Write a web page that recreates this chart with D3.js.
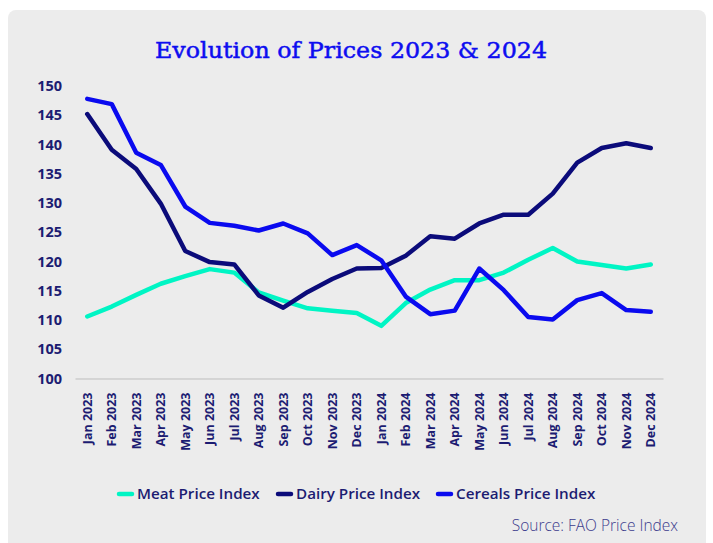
<!DOCTYPE html>
<meta charset="utf-8">
<style>
body { margin: 0; background: #fff; }
text { font-family: "Open Sans", sans-serif; }
.axis path, .axis line { fill: none; }
</style>
<body>
<script src="https://d3js.org/d3.v7.min.js"></script>
<script>

var months = ["Jan 2023", "Feb 2023", "Mar 2023", "Apr 2023", "May 2023", "Jun 2023",
  "Jul 2023", "Aug 2023", "Sep 2023", "Oct 2023", "Nov 2023", "Dec 2023",
  "Jan 2024", "Feb 2024", "Mar 2024", "Apr 2024", "May 2024", "Jun 2024",
  "Jul 2024", "Aug 2024", "Sep 2024", "Oct 2024", "Nov 2024", "Dec 2024"];

var meat = [110.6, 112.3, 114.3, 116.2, 117.5, 118.7, 118.1, 114.7, 113.3, 112.0, 111.6, 111.2,
  109.0, 112.9, 115.2, 116.8, 116.8, 118.1, 120.3, 122.3, 120.0, 119.4, 118.8, 119.5];

var dairy = [145.2, 139.1, 135.8, 129.9, 121.8, 119.9, 119.5, 114.2, 112.1, 114.8, 117.0, 118.8,
  118.9, 121.0, 124.3, 123.9, 126.5, 128.0, 128.0, 131.6, 136.9, 139.4, 140.2, 139.4];

var cereals = [147.8, 146.9, 138.6, 136.5, 129.4, 126.6, 126.1, 125.3, 126.5, 124.8, 121.1, 122.8,
  120.2, 114.0, 111.0, 111.6, 118.8, 115.1, 110.5, 110.1, 113.4, 114.6, 111.7, 111.4];

var yTicks = [100, 105, 110, 115, 120, 125, 130, 135, 140, 145, 150];

var series = [
  { name: "Meat Price Index", values: meat, color: "#00f5c4" },
  { name: "Dairy Price Index", values: dairy, color: "#0b0b7a" },
  { name: "Cereals Price Index", values: cereals, color: "#0a0aef" }
];

var width = 713;
var height = 543;
var navy = "#1c1c72";

var svg = d3.select("body").append("svg")
  .attr("width", width).attr("height", height);

// grey card
svg.append("rect")
  .attr("x", 8).attr("y", 10)
  .attr("width", 698).attr("height", 545)
  .attr("rx", 8)
  .attr("fill", "#ececec");

// title
svg.append("text")
  .attr("x", 351).attr("y", 58)
  .attr("text-anchor", "middle")
  .style("font-family", "'DejaVu Serif', serif")
  .style("font-size", "23px")
  .attr("textLength", 392)
  .attr("lengthAdjust", "spacingAndGlyphs")
  .attr("fill", "#0d0df0")
  .attr("stroke", "#0d0df0")
  .attr("stroke-width", 0.5)
  .text("Evolution of Prices 2023 & 2024");

var x = d3.scaleBand()
  .domain(months)
  .range([75, 663]);

var y = d3.scaleLinear()
  .domain([100, 150])
  .range([378.5, 86]);

// y axis (labels only)
var yAxis = svg.append("g")
  .attr("class", "axis")
  .attr("transform", "translate(70,0)")
  .call(d3.axisLeft(y).tickValues(yTicks).tickSize(0).tickPadding(8));
yAxis.select(".domain").remove();
yAxis.selectAll("text")
  .attr("fill", navy)
  .style("font-size", "14.5px")
  .style("font-weight", "700");

// x axis
var xAxis = svg.append("g")
  .attr("class", "axis")
  .attr("transform", "translate(0," + y(100) + ")")
  .call(d3.axisBottom(x).tickSize(0));
xAxis.select(".domain")
  .attr("stroke", "#bdbdbd")
  .attr("stroke-width", 1);
xAxis.selectAll("text")
  .attr("fill", navy)
  .style("font-size", "12.5px")
  .style("font-weight", "700")
  .attr("text-anchor", "end")
  .attr("transform", "rotate(-90)")
  .attr("x", -14)
  .attr("y", 0)
  .attr("dy", "0.35em");

// lines
var line = d3.line()
  .x(function(d, i) { return x(months[i]) + x.bandwidth() / 2; })
  .y(function(d) { return y(d); });

svg.selectAll("path.series")
  .data(series)
  .enter().append("path")
  .attr("class", "series")
  .attr("d", function(d) { return line(d.values); })
  .attr("fill", "none")
  .attr("stroke", function(d) { return d.color; })
  .attr("stroke-width", 4.5)
  .attr("stroke-linejoin", "round")
  .attr("stroke-linecap", "round");

// legend
var legendX = [118, 277, 437];
var legend = svg.selectAll("g.legend")
  .data(series)
  .enter().append("g")
  .attr("class", "legend")
  .attr("transform", function(d, i) { return "translate(" + legendX[i] + ",494)"; });

legend.append("line")
  .attr("x1", 1).attr("x2", 14)
  .attr("stroke", function(d) { return d.color; })
  .attr("stroke-width", 4.5)
  .attr("stroke-linecap", "round");

legend.append("text")
  .attr("x", 19)
  .attr("dy", "0.35em")
  .attr("fill", navy)
  .style("font-size", "15.2px")
  .style("font-weight", "600")
  .text(function(d) { return d.name; });

// source
svg.append("text")
  .attr("x", 678).attr("y", 531)
  .attr("text-anchor", "end")
  .attr("fill", "#3b3b8c")
  .style("font-size", "15.5px")
  .style("font-weight", "300")
  .text("Source: FAO Price Index");

</script>
</body>
